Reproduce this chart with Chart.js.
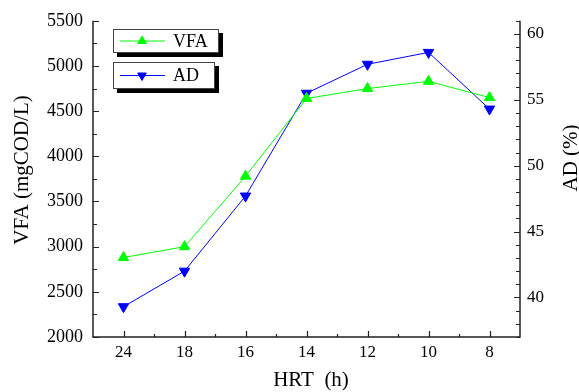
<!DOCTYPE html>
<html>
<head>
<meta charset="utf-8">
<script src="https://cdn.jsdelivr.net/npm/chart.js@4/dist/chart.umd.min.js"></script>
<style>
  html, body { margin: 0; padding: 0; background: #fff; }
  #wrap { width: 579px; height: 392px; }
</style>
</head>
<body>
<div id="wrap"><canvas id="chart" width="579" height="392"></canvas></div>
<script>
const hrt = ["24", "18", "16", "14", "12", "10", "8"];
const vfa = [2880, 3000, 3780, 4640, 4750, 4830, 4650];
const ad = [39.3, 42.0, 47.7, 55.5, 57.7, 58.6, 54.3];
const vfaTicks = [2000, 2500, 3000, 3500, 4000, 4500, 5000, 5500];
const adTicks = [40, 45, 50, 55, 60];

const serif = "Liberation Serif";
const green = "#00ff00";
const blue = "#0000ff";

Chart.defaults.font.family = serif;
Chart.defaults.color = "#000";

// axes lines, inward ticks, titles and the boxed legend
const framePlugin = {
  id: "frame",
  afterDraw(chart) {
    const ctx = chart.ctx;
    const a = chart.chartArea;
    const x = chart.scales.x, y = chart.scales.y, y2 = chart.scales.y2;
    ctx.save();
    ctx.strokeStyle = "#222";
    ctx.lineWidth = 1.5;
    ctx.beginPath();
    ctx.moveTo(a.left, a.top);
    ctx.lineTo(a.left, a.bottom);
    ctx.lineTo(a.right, a.bottom);
    ctx.lineTo(a.right, a.top);
    ctx.stroke();

    ctx.lineWidth = 1.2;
    ctx.beginPath();
    // left axis
    for (let v = 2000; v <= 5500; v += 250) {
      const p = Math.round(y.getPixelForValue(v)) + 0.5;
      const len = v % 500 === 0 ? 6 : 4;
      ctx.moveTo(a.left, p); ctx.lineTo(a.left + len, p);
    }
    // right axis
    for (let v = 37; v <= 61; v += 1) {
      const p = Math.round(y2.getPixelForValue(v)) + 0.5;
      const len = v % 5 === 0 ? 6 : 4;
      ctx.moveTo(a.right, p); ctx.lineTo(a.right - len, p);
    }
    // bottom axis
    for (let i = 0; i < hrt.length; i++) {
      const p = Math.round(x.getPixelForValue(i)) + 0.5;
      ctx.moveTo(p, a.bottom); ctx.lineTo(p, a.bottom - 6);
      if (i < hrt.length - 1) {
        const m = Math.round((x.getPixelForValue(i) + x.getPixelForValue(i + 1)) / 2) + 0.5;
        ctx.moveTo(m, a.bottom); ctx.lineTo(m, a.bottom - 3);
      }
    }
    ctx.stroke();

    // axis titles
    ctx.fillStyle = "#000";
    ctx.font = "21px " + serif;
    ctx.textAlign = "center";
    ctx.textBaseline = "middle";
    ctx.fillText("HRT  (h)", 311, 380);
    ctx.save();
    ctx.translate(22, 170);
    ctx.rotate(-Math.PI / 2);
    ctx.fillText("VFA (mgCOD/L)", 0, 0);
    ctx.restore();
    ctx.save();
    ctx.translate(571, 158);
    ctx.rotate(-Math.PI / 2);
    ctx.fillText("AD (%)", 0, 0);
    ctx.restore();

    // legend boxes with shadow
    const items = [
      { label: "VFA", color: green, rot: 0, box: [113, 29, 106, 24] },
      { label: "AD", color: blue, rot: 180, box: [113, 62, 102, 27] }
    ];
    items.forEach(it => {
      const [bx, by, bw, bh] = it.box;
      ctx.fillStyle = "#000";
      ctx.fillRect(bx + 4, by + 4, bw, bh);
      ctx.fillStyle = "#fff";
      ctx.fillRect(bx, by, bw, bh);
      ctx.strokeStyle = "#444";
      ctx.lineWidth = 1;
      ctx.strokeRect(bx + 0.5, by + 0.5, bw - 1, bh - 1);
      const cy = by + bh / 2;
      ctx.strokeStyle = it.color;
      ctx.beginPath();
      ctx.moveTo(bx + 7, cy); ctx.lineTo(bx + 52, cy);
      ctx.stroke();
      ctx.fillStyle = it.color;
      Chart.helpers.drawPoint(ctx, {
        pointStyle: "triangle", radius: 5, rotation: it.rot, borderWidth: 1
      }, bx + 29, cy);
      ctx.fillStyle = "#000";
      ctx.font = "18px " + serif;
      ctx.textAlign = "left";
      ctx.textBaseline = "middle";
      ctx.fillText(it.label, bx + 60, cy + 1);
    });
    ctx.restore();
  }
};

new Chart(document.getElementById("chart"), {
  type: "line",
  data: {
    labels: hrt,
    datasets: [
      {
        label: "VFA",
        data: vfa,
        yAxisID: "y",
        borderColor: green,
        backgroundColor: green,
        borderWidth: 1,
        pointStyle: "triangle",
        pointRadius: 6,
        pointBorderWidth: 1,
        tension: 0
      },
      {
        label: "AD",
        data: ad,
        yAxisID: "y2",
        borderColor: blue,
        backgroundColor: blue,
        borderWidth: 1,
        pointStyle: "triangle",
        pointRotation: 180,
        pointRadius: 6,
        pointBorderWidth: 1,
        tension: 0
      }
    ]
  },
  options: {
    responsive: false,
    animation: false,
    layout: { padding: { top: 17, left: 0, right: 0, bottom: 0 } },
    plugins: {
      legend: { display: false },
      tooltip: { enabled: false }
    },
    scales: {
      x: {
        type: "category",
        offset: true,
        grid: { display: false, drawTicks: false },
        border: { display: false },
        ticks: { color: "#000", font: { family: serif, size: 17 }, padding: 5, maxRotation: 0 },
        afterFit: s => { s.height = 55; }
      },
      y: {
        position: "left",
        min: 2000,
        max: 5500,
        afterBuildTicks: s => { s.ticks = vfaTicks.map(v => ({ value: v })); },
        grid: { display: false, drawTicks: false },
        border: { display: false },
        ticks: { color: "#000", font: { family: serif, size: 18 }, padding: 10, callback: v => String(v) },
        afterFit: s => { s.width = 93; }
      },
      y2: {
        position: "right",
        min: 37,
        max: 61,
        afterBuildTicks: s => { s.ticks = adTicks.map(v => ({ value: v })); },
        grid: { display: false, drawTicks: false },
        border: { display: false },
        ticks: { color: "#000", font: { family: serif, size: 17 }, padding: 7, callback: v => String(v) },
        afterFit: s => { s.width = 59; }
      }
    }
  },
  plugins: [framePlugin]
});
</script>
</body>
</html>
